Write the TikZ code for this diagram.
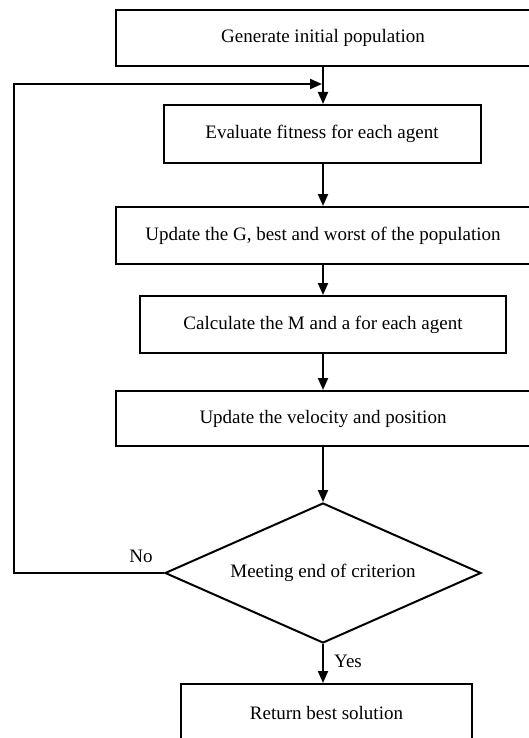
\documentclass[tikz,border=0pt]{standalone}
\usepackage{fontspec}
\setmainfont{Liberation Serif}
\usetikzlibrary{shapes.geometric,arrows.meta}
\begin{document}
\begin{tikzpicture}[x=1pt,y=-1pt,
  every node/.style={font=\fontsize{19}{22}\selectfont},
  box/.style={draw,line width=2pt,rectangle,inner sep=0pt},
  dia/.style={draw,line width=2pt,diamond,inner sep=0pt},
  arr/.style={line width=2pt,-{Triangle[length=12pt,width=10pt]}},
  lbl/.style={inner sep=0pt}]
\useasboundingbox (0,0) rectangle (529,738);
\clip (0,0) rectangle (529,738);
\node[box,minimum width=414pt,minimum height=56pt] (b1) at (323,38) {Generate initial population};
\node[box,minimum width=317pt,minimum height=58pt] (b2) at (322,134) {Evaluate fitness for each agent};
\node[box,minimum width=414pt,minimum height=57pt] (b3) at (323,235.5) {Update the G, best and worst of the population};
\node[box,minimum width=366pt,minimum height=57pt] (b4) at (323,324.5) {Calculate the M and a for each agent};
\node[box,minimum width=414pt,minimum height=55pt] (b5) at (323,418.5) {Update the velocity and position};
\node[dia,minimum width=316pt,minimum height=140pt,aspect=2.26] (d) at (323,573) {Meeting end of criterion};
\node[box,minimum width=291pt,minimum height=58pt] (b6) at (326.5,713) {Return best solution};
\coordinate (fl) at (14,84);
\coordinate (j) at (322,84);
\draw[arr] (b1.south -| d.north) -- (b2.north -| d.north);
\draw[arr] (b2.south -| d.north) -- (b3.north -| d.north);
\draw[arr] (b3.south -| d.north) -- (b4.north -| d.north);
\draw[arr] (b4.south -| d.north) -- (b5.north -| d.north);
\draw[arr] (b5.south -| d.north) -- (d.north);
\draw[arr] (d.south) -- (b6.north -| d.south);
\draw[arr] (d.west) -| (fl) -- (j);
\node[lbl] (no) at (141,556) {No};
\node[lbl] (yes) at (348,661) {Yes};
\end{tikzpicture}
\end{document}
